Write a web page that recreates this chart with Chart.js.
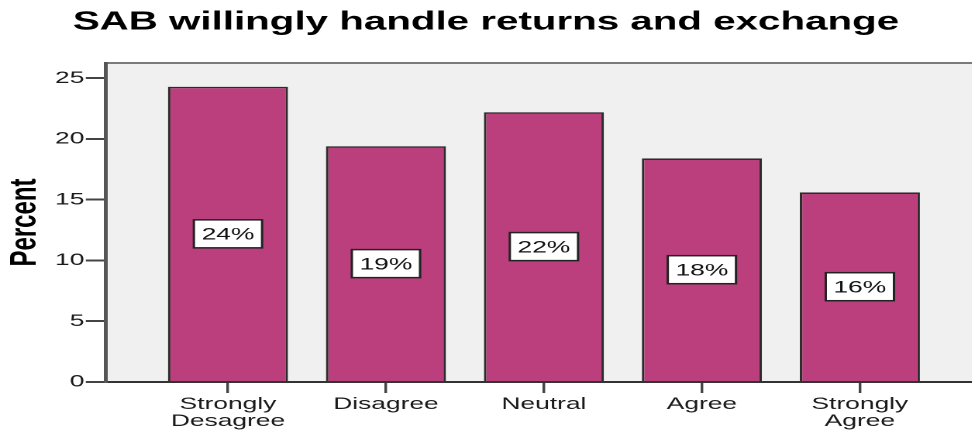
<!DOCTYPE html>
<html>
<head>
<meta charset="utf-8">
<script src="https://cdn.jsdelivr.net/npm/chart.js@4.4.1/dist/chart.umd.min.js"></script>
<style>
  html, body { margin: 0; padding: 0; background: #fff; overflow: hidden; }
  /* the chart is laid out narrow and stretched sideways */
  #wrap { width: 627px; height: 432px; transform: scaleX(1.55); transform-origin: 0 0; }
</style>
</head>
<body>
<div id="wrap"><canvas id="chart"></canvas></div>
<script>
const chartTitle = 'SAB willingly handle returns and exchange';
const categories = [['Strongly', 'Desagree'], 'Disagree', 'Neutral', 'Agree', ['Strongly', 'Agree']];
const percent = [24.3, 19.4, 22.2, 18.4, 15.6];
const yTicks = [0, 5, 10, 15, 20, 25];

const FONT = '"Liberation Sans", Arial, Helvetica, sans-serif';

// grey plot panel with a thin top edge
const panel = {
  id: 'panel',
  beforeDraw(chart) {
    const { ctx, chartArea: a } = chart;
    ctx.save();
    ctx.fillStyle = '#f0f0f0';
    ctx.fillRect(a.left, a.top, a.right - a.left, a.bottom - a.top);
    ctx.strokeStyle = '#7a7a7a';
    ctx.lineWidth = 2;
    ctx.beginPath();
    ctx.moveTo(a.left, a.top);
    ctx.lineTo(a.right, a.top);
    ctx.stroke();
    ctx.restore();
  }
};

// white boxes with the rounded percentage, halfway up each bar
const valueBoxes = {
  id: 'valueBoxes',
  afterDatasetsDraw(chart) {
    const ctx = chart.ctx;
    const meta = chart.getDatasetMeta(0);
    ctx.save();
    ctx.font = '17px ' + FONT;
    ctx.textAlign = 'center';
    ctx.textBaseline = 'middle';
    meta.data.forEach((bar, i) => {
      const cx = bar.x;
      const cy = (bar.y + bar.base) / 2;
      const w = 44, h = 28;
      ctx.fillStyle = '#ffffff';
      ctx.fillRect(cx - w / 2, cy - h / 2, w, h);
      ctx.strokeStyle = '#222';
      ctx.lineWidth = 1.5;
      ctx.strokeRect(cx - w / 2, cy - h / 2, w, h);
      ctx.fillStyle = '#111';
      ctx.fillText(Math.round(percent[i]) + '%', cx, cy + 1);
    });
    ctx.restore();
  }
};

new Chart(document.getElementById('chart'), {
  type: 'bar',
  data: {
    datasets: [{
      data: percent.map((v, i) => ({ x: i, y: v })),
      backgroundColor: '#bb3f7c',
      borderColor: '#2b2b2b',
      borderWidth: 1.6,
      barPercentage: 0.76,
      categoryPercentage: 1
    }]
  },
  options: {
    responsive: true,
    maintainAspectRatio: false,
    animation: false,
    devicePixelRatio: 2,
    layout: { padding: 0 },
    plugins: {
      legend: { display: false },
      tooltip: { enabled: false },
      title: {
        display: true,
        text: chartTitle,
        color: '#000',
        font: { family: FONT, size: 26, weight: 'bold', lineHeight: 1.2 },
        padding: { top: 6.5, bottom: 25.3 }
      }
    },
    scales: {
      x: {
        type: 'linear',
        min: -0.772,
        max: 4.709,
        offset: false,
        z: 1,
        afterBuildTicks: s => { s.ticks = categories.map((c, i) => ({ value: i })); },
        afterFit: s => { s.height = 50; },
        ticks: {
          autoSkip: false,
          maxRotation: 0,
          padding: 3,
          color: '#1a1a1a',
          font: { family: FONT, size: 17, lineHeight: 1.0 },
          callback: v => categories[v]
        },
        grid: {
          offset: false,
          drawOnChartArea: false,
          drawTicks: true,
          tickLength: 11,
          color: '#444',
          lineWidth: 1.7
        },
        border: { display: true, color: '#333', width: 2 }
      },
      y: {
        min: 0,
        max: 26.25,
        afterBuildTicks: s => { s.ticks = yTicks.map(v => ({ value: v })); },
        afterFit: s => { s.width = 68.4; },
        ticks: {
          padding: 1,
          color: '#1a1a1a',
          font: { family: FONT, size: 17 }
        },
        grid: {
          drawOnChartArea: false,
          drawTicks: true,
          tickLength: 13,
          color: '#444',
          lineWidth: 2
        },
        border: { display: true, color: '#555', width: 2.5 },
        title: {
          display: true,
          text: 'Percent',
          color: '#000',
          font: { family: FONT, size: 24, weight: 'bold', lineHeight: 1.2 },
          padding: { top: 2, bottom: 0 }
        }
      }
    }
  },
  plugins: [panel, valueBoxes]
});
</script>
</body>
</html>
